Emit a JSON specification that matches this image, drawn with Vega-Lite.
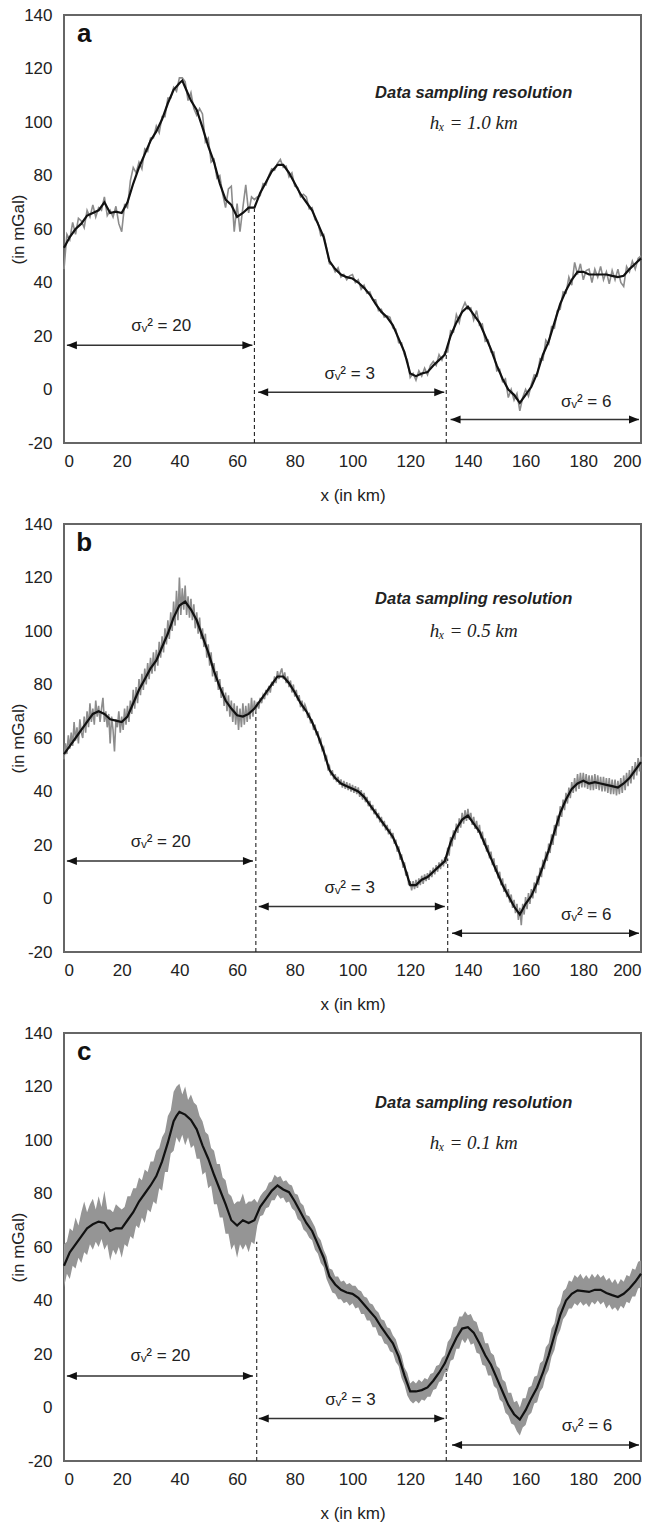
{
"$schema":"https://vega.github.io/schema/vega-lite/v6.json",
"background":"white",
"padding":{"left":9,"top":6,"right":5,"bottom":5},
"config":{"view":{"stroke":"#666","strokeWidth":2},
"axis":{"domain":false,"ticks":false,"grid":false,"labelExpr":"''+datum.value","labelFont":"Liberation Sans","labelFontSize":17,"labelColor":"#222","titleFont":"Liberation Sans","titleFontSize":17,"titleFontWeight":"normal","titleColor":"#222"}},
"datasets":{"d":[
{"p":"a","k":"g","x":0,"y":45},{"p":"a","k":"g","x":1,"y":58},{"p":"a","k":"g","x":2,"y":56},{"p":"a","k":"g","x":3,"y":62.5},{"p":"a","k":"g","x":4,"y":58},{"p":"a","k":"g","x":5,"y":64},{"p":"a","k":"g","x":6,"y":63},{"p":"a","k":"g","x":7,"y":60.5},{"p":"a","k":"g","x":8,"y":67},{"p":"a","k":"g","x":9,"y":64.5},{"p":"a","k":"g","x":10,"y":69},{"p":"a","k":"g","x":11,"y":64.5},{"p":"a","k":"g","x":12,"y":68},{"p":"a","k":"g","x":13,"y":67},{"p":"a","k":"g","x":14,"y":72},{"p":"a","k":"g","x":15,"y":65},{"p":"a","k":"g","x":16,"y":67},{"p":"a","k":"g","x":17,"y":64.5},{"p":"a","k":"g","x":18,"y":68.5},{"p":"a","k":"g","x":19,"y":62},{"p":"a","k":"g","x":20,"y":59},{"p":"a","k":"g","x":21,"y":69},{"p":"a","k":"g","x":22,"y":68},{"p":"a","k":"g","x":23,"y":78},{"p":"a","k":"g","x":24,"y":83},{"p":"a","k":"g","x":25,"y":81},{"p":"a","k":"g","x":26,"y":85},{"p":"a","k":"g","x":27,"y":82.5},{"p":"a","k":"g","x":28,"y":90},{"p":"a","k":"g","x":29,"y":89},{"p":"a","k":"g","x":30,"y":94},{"p":"a","k":"g","x":31,"y":94},{"p":"a","k":"g","x":32,"y":98.5},{"p":"a","k":"g","x":33,"y":96},{"p":"a","k":"g","x":34,"y":102},{"p":"a","k":"g","x":35,"y":102},{"p":"a","k":"g","x":36,"y":109},{"p":"a","k":"g","x":37,"y":109},{"p":"a","k":"g","x":38,"y":113},{"p":"a","k":"g","x":39,"y":111.5},{"p":"a","k":"g","x":40,"y":116.5},{"p":"a","k":"g","x":41,"y":116.5},{"p":"a","k":"g","x":42,"y":115},{"p":"a","k":"g","x":43,"y":108},{"p":"a","k":"g","x":44,"y":111},{"p":"a","k":"g","x":45,"y":105},{"p":"a","k":"g","x":46,"y":102.5},{"p":"a","k":"g","x":47,"y":105},{"p":"a","k":"g","x":48,"y":103},{"p":"a","k":"g","x":49,"y":92.5},{"p":"a","k":"g","x":50,"y":94},{"p":"a","k":"g","x":51,"y":85},{"p":"a","k":"g","x":52,"y":86},{"p":"a","k":"g","x":53,"y":79},{"p":"a","k":"g","x":54,"y":80},{"p":"a","k":"g","x":55,"y":73},{"p":"a","k":"g","x":56,"y":68},{"p":"a","k":"g","x":57,"y":75},{"p":"a","k":"g","x":58,"y":76},{"p":"a","k":"g","x":59,"y":59},{"p":"a","k":"g","x":60,"y":69.5},{"p":"a","k":"g","x":61,"y":59},{"p":"a","k":"g","x":62,"y":68},{"p":"a","k":"g","x":63,"y":76.5},{"p":"a","k":"g","x":64,"y":66},{"p":"a","k":"g","x":65,"y":72},{"p":"a","k":"g","x":66,"y":71},{"p":"a","k":"g","x":67,"y":72},{"p":"a","k":"g","x":68,"y":72.5},{"p":"a","k":"g","x":69,"y":77},{"p":"a","k":"g","x":70,"y":76.5},{"p":"a","k":"g","x":71,"y":80},{"p":"a","k":"g","x":72,"y":82.5},{"p":"a","k":"g","x":73,"y":82},{"p":"a","k":"g","x":74,"y":84.5},{"p":"a","k":"g","x":75,"y":86},{"p":"a","k":"g","x":76,"y":83},{"p":"a","k":"g","x":77,"y":83.5},{"p":"a","k":"g","x":78,"y":79.5},{"p":"a","k":"g","x":79,"y":81},{"p":"a","k":"g","x":80,"y":76},{"p":"a","k":"g","x":81,"y":75.5},{"p":"a","k":"g","x":82,"y":72},{"p":"a","k":"g","x":83,"y":73},{"p":"a","k":"g","x":84,"y":72},{"p":"a","k":"g","x":85,"y":67.5},{"p":"a","k":"g","x":86,"y":68},{"p":"a","k":"g","x":87,"y":63.5},{"p":"a","k":"g","x":88,"y":62.5},{"p":"a","k":"g","x":89,"y":57.5},{"p":"a","k":"g","x":90,"y":58},{"p":"a","k":"g","x":91,"y":53},{"p":"a","k":"g","x":92,"y":47},{"p":"a","k":"g","x":93,"y":46.5},{"p":"a","k":"g","x":94,"y":44},{"p":"a","k":"g","x":95,"y":45.5},{"p":"a","k":"g","x":96,"y":42},{"p":"a","k":"g","x":97,"y":43},{"p":"a","k":"g","x":98,"y":41},{"p":"a","k":"g","x":99,"y":42.5},{"p":"a","k":"g","x":100,"y":43},{"p":"a","k":"g","x":101,"y":40},{"p":"a","k":"g","x":102,"y":41},{"p":"a","k":"g","x":103,"y":37.5},{"p":"a","k":"g","x":104,"y":39},{"p":"a","k":"g","x":105,"y":36},{"p":"a","k":"g","x":106,"y":36.5},{"p":"a","k":"g","x":107,"y":33.5},{"p":"a","k":"g","x":108,"y":33.5},{"p":"a","k":"g","x":109,"y":29.5},{"p":"a","k":"g","x":110,"y":30},{"p":"a","k":"g","x":111,"y":27},{"p":"a","k":"g","x":112,"y":27.5},{"p":"a","k":"g","x":113,"y":27},{"p":"a","k":"g","x":114,"y":23},{"p":"a","k":"g","x":115,"y":22.5},{"p":"a","k":"g","x":116,"y":17.5},{"p":"a","k":"g","x":117,"y":17.5},{"p":"a","k":"g","x":118,"y":13},{"p":"a","k":"g","x":119,"y":11},{"p":"a","k":"g","x":120,"y":4.5},{"p":"a","k":"g","x":121,"y":6},{"p":"a","k":"g","x":122,"y":3.5},{"p":"a","k":"g","x":123,"y":7},{"p":"a","k":"g","x":124,"y":5},{"p":"a","k":"g","x":125,"y":8},{"p":"a","k":"g","x":126,"y":5.5},{"p":"a","k":"g","x":127,"y":9},{"p":"a","k":"g","x":128,"y":10.5},{"p":"a","k":"g","x":129,"y":9},{"p":"a","k":"g","x":130,"y":13},{"p":"a","k":"g","x":131,"y":11},{"p":"a","k":"g","x":132,"y":14},{"p":"a","k":"g","x":133,"y":14},{"p":"a","k":"g","x":134,"y":22},{"p":"a","k":"g","x":135,"y":21.5},{"p":"a","k":"g","x":136,"y":28},{"p":"a","k":"g","x":137,"y":25},{"p":"a","k":"g","x":138,"y":30},{"p":"a","k":"g","x":139,"y":32.5},{"p":"a","k":"g","x":140,"y":30},{"p":"a","k":"g","x":141,"y":30.5},{"p":"a","k":"g","x":142,"y":26},{"p":"a","k":"g","x":143,"y":29.5},{"p":"a","k":"g","x":144,"y":24},{"p":"a","k":"g","x":145,"y":24.5},{"p":"a","k":"g","x":146,"y":18},{"p":"a","k":"g","x":147,"y":18.5},{"p":"a","k":"g","x":148,"y":14},{"p":"a","k":"g","x":149,"y":14},{"p":"a","k":"g","x":150,"y":7},{"p":"a","k":"g","x":151,"y":7.5},{"p":"a","k":"g","x":152,"y":3},{"p":"a","k":"g","x":153,"y":4},{"p":"a","k":"g","x":154,"y":-3},{"p":"a","k":"g","x":155,"y":0},{"p":"a","k":"g","x":156,"y":-4},{"p":"a","k":"g","x":157,"y":-1.5},{"p":"a","k":"g","x":158,"y":-8},{"p":"a","k":"g","x":159,"y":-3},{"p":"a","k":"g","x":160,"y":0},{"p":"a","k":"g","x":161,"y":-2.5},{"p":"a","k":"g","x":162,"y":2},{"p":"a","k":"g","x":163,"y":5.5},{"p":"a","k":"g","x":164,"y":5},{"p":"a","k":"g","x":165,"y":11.5},{"p":"a","k":"g","x":166,"y":11},{"p":"a","k":"g","x":167,"y":18.5},{"p":"a","k":"g","x":168,"y":17},{"p":"a","k":"g","x":169,"y":23.5},{"p":"a","k":"g","x":170,"y":23},{"p":"a","k":"g","x":171,"y":29.5},{"p":"a","k":"g","x":172,"y":30},{"p":"a","k":"g","x":173,"y":36.5},{"p":"a","k":"g","x":174,"y":36},{"p":"a","k":"g","x":175,"y":42},{"p":"a","k":"g","x":176,"y":39},{"p":"a","k":"g","x":177,"y":47.5},{"p":"a","k":"g","x":178,"y":43},{"p":"a","k":"g","x":179,"y":47},{"p":"a","k":"g","x":180,"y":41},{"p":"a","k":"g","x":181,"y":44.5},{"p":"a","k":"g","x":182,"y":45},{"p":"a","k":"g","x":183,"y":40},{"p":"a","k":"g","x":184,"y":45},{"p":"a","k":"g","x":185,"y":42},{"p":"a","k":"g","x":186,"y":46},{"p":"a","k":"g","x":187,"y":41},{"p":"a","k":"g","x":188,"y":44},{"p":"a","k":"g","x":189,"y":39.5},{"p":"a","k":"g","x":190,"y":44.5},{"p":"a","k":"g","x":191,"y":41},{"p":"a","k":"g","x":192,"y":45},{"p":"a","k":"g","x":193,"y":40},{"p":"a","k":"g","x":194,"y":38.5},{"p":"a","k":"g","x":195,"y":46},{"p":"a","k":"g","x":196,"y":44},{"p":"a","k":"g","x":197,"y":48},{"p":"a","k":"g","x":198,"y":45},{"p":"a","k":"g","x":199,"y":49},{"p":"a","k":"g","x":200,"y":50},

{"p":"b","k":"g","x":0,"y":52},{"p":"b","k":"g","x":0.5,"y":58},{"p":"b","k":"g","x":1,"y":54},{"p":"b","k":"g","x":1.5,"y":61},{"p":"b","k":"g","x":2,"y":56},{"p":"b","k":"g","x":2.5,"y":62},{"p":"b","k":"g","x":3,"y":57},{"p":"b","k":"g","x":3.5,"y":66},{"p":"b","k":"g","x":4,"y":59},{"p":"b","k":"g","x":4.5,"y":64},{"p":"b","k":"g","x":5,"y":58},{"p":"b","k":"g","x":5.5,"y":67},{"p":"b","k":"g","x":6,"y":62},{"p":"b","k":"g","x":6.5,"y":60},{"p":"b","k":"g","x":7,"y":68},{"p":"b","k":"g","x":7.5,"y":62},{"p":"b","k":"g","x":8,"y":70},{"p":"b","k":"g","x":8.5,"y":64},{"p":"b","k":"g","x":9,"y":73},{"p":"b","k":"g","x":9.5,"y":66},{"p":"b","k":"g","x":10,"y":71},{"p":"b","k":"g","x":10.5,"y":65},{"p":"b","k":"g","x":11,"y":74},{"p":"b","k":"g","x":11.5,"y":68},{"p":"b","k":"g","x":12,"y":72},{"p":"b","k":"g","x":12.5,"y":66},{"p":"b","k":"g","x":13,"y":71},{"p":"b","k":"g","x":13.5,"y":75},{"p":"b","k":"g","x":14,"y":66},{"p":"b","k":"g","x":14.5,"y":70},{"p":"b","k":"g","x":15,"y":64},{"p":"b","k":"g","x":15.5,"y":69},{"p":"b","k":"g","x":16,"y":58},{"p":"b","k":"g","x":16.5,"y":68},{"p":"b","k":"g","x":17,"y":63},{"p":"b","k":"g","x":17.5,"y":55},{"p":"b","k":"g","x":18,"y":67},{"p":"b","k":"g","x":18.5,"y":64},{"p":"b","k":"g","x":19,"y":70},{"p":"b","k":"g","x":19.5,"y":62},{"p":"b","k":"g","x":20,"y":68},{"p":"b","k":"g","x":20.5,"y":63},{"p":"b","k":"g","x":21,"y":71},{"p":"b","k":"g","x":21.5,"y":65},{"p":"b","k":"g","x":22,"y":72},{"p":"b","k":"g","x":22.5,"y":66},{"p":"b","k":"g","x":23,"y":74},{"p":"b","k":"g","x":23.5,"y":69},{"p":"b","k":"g","x":24,"y":78},{"p":"b","k":"g","x":24.5,"y":71},{"p":"b","k":"g","x":25,"y":79},{"p":"b","k":"g","x":25.5,"y":73},{"p":"b","k":"g","x":26,"y":82},{"p":"b","k":"g","x":26.5,"y":76},{"p":"b","k":"g","x":27,"y":84},{"p":"b","k":"g","x":27.5,"y":78},{"p":"b","k":"g","x":28,"y":86},{"p":"b","k":"g","x":28.5,"y":80},{"p":"b","k":"g","x":29,"y":88},{"p":"b","k":"g","x":29.5,"y":82},{"p":"b","k":"g","x":30,"y":90},{"p":"b","k":"g","x":30.5,"y":84},{"p":"b","k":"g","x":31,"y":92},{"p":"b","k":"g","x":31.5,"y":85},{"p":"b","k":"g","x":32,"y":93},{"p":"b","k":"g","x":32.5,"y":87},{"p":"b","k":"g","x":33,"y":96},{"p":"b","k":"g","x":33.5,"y":90},{"p":"b","k":"g","x":34,"y":98},{"p":"b","k":"g","x":34.5,"y":92},{"p":"b","k":"g","x":35,"y":101},{"p":"b","k":"g","x":35.5,"y":95},{"p":"b","k":"g","x":36,"y":104},{"p":"b","k":"g","x":36.5,"y":97},{"p":"b","k":"g","x":37,"y":107},{"p":"b","k":"g","x":37.5,"y":100},{"p":"b","k":"g","x":38,"y":111},{"p":"b","k":"g","x":38.5,"y":102},{"p":"b","k":"g","x":39,"y":115},{"p":"b","k":"g","x":39.5,"y":104},{"p":"b","k":"g","x":40,"y":120},{"p":"b","k":"g","x":40.5,"y":106},{"p":"b","k":"g","x":41,"y":116},{"p":"b","k":"g","x":41.5,"y":108},{"p":"b","k":"g","x":42,"y":117},{"p":"b","k":"g","x":42.5,"y":106},{"p":"b","k":"g","x":43,"y":113},{"p":"b","k":"g","x":43.5,"y":105},{"p":"b","k":"g","x":44,"y":112},{"p":"b","k":"g","x":44.5,"y":104},{"p":"b","k":"g","x":45,"y":110},{"p":"b","k":"g","x":45.5,"y":101},{"p":"b","k":"g","x":46,"y":107},{"p":"b","k":"g","x":46.5,"y":99},{"p":"b","k":"g","x":47,"y":105},{"p":"b","k":"g","x":47.5,"y":97},{"p":"b","k":"g","x":48,"y":101},{"p":"b","k":"g","x":48.5,"y":94},{"p":"b","k":"g","x":49,"y":99},{"p":"b","k":"g","x":49.5,"y":90},{"p":"b","k":"g","x":50,"y":95},{"p":"b","k":"g","x":50.5,"y":87},{"p":"b","k":"g","x":51,"y":92},{"p":"b","k":"g","x":51.5,"y":83},{"p":"b","k":"g","x":52,"y":88},{"p":"b","k":"g","x":52.5,"y":81},{"p":"b","k":"g","x":53,"y":85},{"p":"b","k":"g","x":53.5,"y":78},{"p":"b","k":"g","x":54,"y":82},{"p":"b","k":"g","x":54.5,"y":75},{"p":"b","k":"g","x":55,"y":79},{"p":"b","k":"g","x":55.5,"y":72},{"p":"b","k":"g","x":56,"y":77},{"p":"b","k":"g","x":56.5,"y":70},{"p":"b","k":"g","x":57,"y":76},{"p":"b","k":"g","x":57.5,"y":68},{"p":"b","k":"g","x":58,"y":74},{"p":"b","k":"g","x":58.5,"y":66},{"p":"b","k":"g","x":59,"y":73},{"p":"b","k":"g","x":59.5,"y":65},{"p":"b","k":"g","x":60,"y":72},{"p":"b","k":"g","x":60.5,"y":63},{"p":"b","k":"g","x":61,"y":71},{"p":"b","k":"g","x":61.5,"y":64},{"p":"b","k":"g","x":62,"y":73},{"p":"b","k":"g","x":62.5,"y":65},{"p":"b","k":"g","x":63,"y":72},{"p":"b","k":"g","x":63.5,"y":66},{"p":"b","k":"g","x":64,"y":73},{"p":"b","k":"g","x":64.5,"y":67},{"p":"b","k":"g","x":65,"y":75},{"p":"b","k":"g","x":65.5,"y":68},{"p":"b","k":"g","x":66,"y":74},{"p":"b","k":"g","x":66.5,"y":70},
{"p":"b","k":"g","x":67,"y":73.5},{"p":"b","k":"g","x":67.5,"y":71},{"p":"b","k":"g","x":68,"y":75},{"p":"b","k":"g","x":68.5,"y":73},{"p":"b","k":"g","x":69,"y":76},{"p":"b","k":"g","x":69.5,"y":74.5},{"p":"b","k":"g","x":70,"y":78},{"p":"b","k":"g","x":70.5,"y":76},{"p":"b","k":"g","x":71,"y":79.5},{"p":"b","k":"g","x":71.5,"y":77},{"p":"b","k":"g","x":72,"y":81},{"p":"b","k":"g","x":72.5,"y":79.5},{"p":"b","k":"g","x":73,"y":83},{"p":"b","k":"g","x":73.5,"y":80.5},{"p":"b","k":"g","x":74,"y":85},{"p":"b","k":"g","x":74.5,"y":82},{"p":"b","k":"g","x":75,"y":84.5},{"p":"b","k":"g","x":75.5,"y":86},{"p":"b","k":"g","x":76,"y":82},{"p":"b","k":"g","x":76.5,"y":84.5},{"p":"b","k":"g","x":77,"y":80.5},{"p":"b","k":"g","x":77.5,"y":83},{"p":"b","k":"g","x":78,"y":79},{"p":"b","k":"g","x":78.5,"y":81.5},{"p":"b","k":"g","x":79,"y":77},{"p":"b","k":"g","x":79.5,"y":80},{"p":"b","k":"g","x":80,"y":75.5},{"p":"b","k":"g","x":80.5,"y":78},{"p":"b","k":"g","x":81,"y":74},{"p":"b","k":"g","x":81.5,"y":76},{"p":"b","k":"g","x":82,"y":71.5},{"p":"b","k":"g","x":82.5,"y":74},{"p":"b","k":"g","x":83,"y":70},{"p":"b","k":"g","x":83.5,"y":72.5},{"p":"b","k":"g","x":84,"y":71},{"p":"b","k":"g","x":84.5,"y":67.5},{"p":"b","k":"g","x":85,"y":69.5},{"p":"b","k":"g","x":85.5,"y":65.5},{"p":"b","k":"g","x":86,"y":67},{"p":"b","k":"g","x":86.5,"y":63},{"p":"b","k":"g","x":87,"y":65},{"p":"b","k":"g","x":87.5,"y":61},{"p":"b","k":"g","x":88,"y":62.5},{"p":"b","k":"g","x":88.5,"y":58.5},{"p":"b","k":"g","x":89,"y":59.5},{"p":"b","k":"g","x":89.5,"y":55.5},{"p":"b","k":"g","x":90,"y":56.5},{"p":"b","k":"g","x":90.5,"y":52},{"p":"b","k":"g","x":91,"y":53},{"p":"b","k":"g","x":91.5,"y":48.5},{"p":"b","k":"g","x":92,"y":49.5},{"p":"b","k":"g","x":92.5,"y":46},{"p":"b","k":"g","x":93,"y":48},{"p":"b","k":"g","x":93.5,"y":44.5},{"p":"b","k":"g","x":94,"y":46.5},{"p":"b","k":"g","x":94.5,"y":43.5},{"p":"b","k":"g","x":95,"y":45.5},{"p":"b","k":"g","x":95.5,"y":42.5},{"p":"b","k":"g","x":96,"y":44.5},{"p":"b","k":"g","x":96.5,"y":41.5},{"p":"b","k":"g","x":97,"y":44},{"p":"b","k":"g","x":97.5,"y":41},{"p":"b","k":"g","x":98,"y":43.5},{"p":"b","k":"g","x":98.5,"y":40.5},{"p":"b","k":"g","x":99,"y":43},{"p":"b","k":"g","x":99.5,"y":40},{"p":"b","k":"g","x":100,"y":42.5},{"p":"b","k":"g","x":100.5,"y":39.5},{"p":"b","k":"g","x":101,"y":42},{"p":"b","k":"g","x":101.5,"y":39},{"p":"b","k":"g","x":102,"y":41.5},{"p":"b","k":"g","x":102.5,"y":38},{"p":"b","k":"g","x":103,"y":40.5},{"p":"b","k":"g","x":103.5,"y":37},{"p":"b","k":"g","x":104,"y":39.5},{"p":"b","k":"g","x":104.5,"y":36},{"p":"b","k":"g","x":105,"y":38},{"p":"b","k":"g","x":105.5,"y":34.5},{"p":"b","k":"g","x":106,"y":36.5},{"p":"b","k":"g","x":106.5,"y":33},{"p":"b","k":"g","x":107,"y":35},{"p":"b","k":"g","x":107.5,"y":31.5},{"p":"b","k":"g","x":108,"y":33.5},{"p":"b","k":"g","x":108.5,"y":30},{"p":"b","k":"g","x":109,"y":32},{"p":"b","k":"g","x":109.5,"y":28.5},{"p":"b","k":"g","x":110,"y":30.5},{"p":"b","k":"g","x":110.5,"y":27},{"p":"b","k":"g","x":111,"y":29},{"p":"b","k":"g","x":111.5,"y":25.5},{"p":"b","k":"g","x":112,"y":27.5},{"p":"b","k":"g","x":112.5,"y":24},{"p":"b","k":"g","x":113,"y":26},{"p":"b","k":"g","x":113.5,"y":22.5},{"p":"b","k":"g","x":114,"y":24.5},{"p":"b","k":"g","x":114.5,"y":20.5},{"p":"b","k":"g","x":115,"y":22},{"p":"b","k":"g","x":115.5,"y":17.5},{"p":"b","k":"g","x":116,"y":19.5},{"p":"b","k":"g","x":116.5,"y":14.5},{"p":"b","k":"g","x":117,"y":16.5},{"p":"b","k":"g","x":117.5,"y":11.5},{"p":"b","k":"g","x":118,"y":13.5},{"p":"b","k":"g","x":118.5,"y":8.5},{"p":"b","k":"g","x":119,"y":10},{"p":"b","k":"g","x":119.5,"y":5},{"p":"b","k":"g","x":120,"y":6.5},{"p":"b","k":"g","x":120.5,"y":3},{"p":"b","k":"g","x":121,"y":6.5},{"p":"b","k":"g","x":121.5,"y":3.5},{"p":"b","k":"g","x":122,"y":7},{"p":"b","k":"g","x":122.5,"y":4},{"p":"b","k":"g","x":123,"y":7.5},{"p":"b","k":"g","x":123.5,"y":5},{"p":"b","k":"g","x":124,"y":8.5},{"p":"b","k":"g","x":124.5,"y":5.5},{"p":"b","k":"g","x":125,"y":9},{"p":"b","k":"g","x":125.5,"y":6.5},{"p":"b","k":"g","x":126,"y":9.5},{"p":"b","k":"g","x":126.5,"y":7},{"p":"b","k":"g","x":127,"y":10.5},{"p":"b","k":"g","x":127.5,"y":8},{"p":"b","k":"g","x":128,"y":11.5},{"p":"b","k":"g","x":128.5,"y":9},{"p":"b","k":"g","x":129,"y":12.5},{"p":"b","k":"g","x":129.5,"y":10},{"p":"b","k":"g","x":130,"y":13.5},{"p":"b","k":"g","x":130.5,"y":11},{"p":"b","k":"g","x":131,"y":14.5},{"p":"b","k":"g","x":131.5,"y":12},{"p":"b","k":"g","x":132,"y":15.5},{"p":"b","k":"g","x":132.5,"y":13},
{"p":"b","k":"g","x":133,"y":19},{"p":"b","k":"g","x":133.5,"y":16},{"p":"b","k":"g","x":134,"y":23},{"p":"b","k":"g","x":134.5,"y":19.5},{"p":"b","k":"g","x":135,"y":25.5},{"p":"b","k":"g","x":135.5,"y":22},{"p":"b","k":"g","x":136,"y":28},{"p":"b","k":"g","x":136.5,"y":24.5},{"p":"b","k":"g","x":137,"y":30},{"p":"b","k":"g","x":137.5,"y":26.5},{"p":"b","k":"g","x":138,"y":32},{"p":"b","k":"g","x":138.5,"y":28},{"p":"b","k":"g","x":139,"y":33},{"p":"b","k":"g","x":139.5,"y":29},{"p":"b","k":"g","x":140,"y":33.5},{"p":"b","k":"g","x":140.5,"y":29.5},{"p":"b","k":"g","x":141,"y":32},{"p":"b","k":"g","x":141.5,"y":27.5},{"p":"b","k":"g","x":142,"y":30.5},{"p":"b","k":"g","x":142.5,"y":26},{"p":"b","k":"g","x":143,"y":29},{"p":"b","k":"g","x":143.5,"y":24.5},{"p":"b","k":"g","x":144,"y":27.5},{"p":"b","k":"g","x":144.5,"y":22.5},{"p":"b","k":"g","x":145,"y":25},{"p":"b","k":"g","x":145.5,"y":20},{"p":"b","k":"g","x":146,"y":22.5},{"p":"b","k":"g","x":146.5,"y":17.5},{"p":"b","k":"g","x":147,"y":20},{"p":"b","k":"g","x":147.5,"y":15},{"p":"b","k":"g","x":148,"y":17.5},{"p":"b","k":"g","x":148.5,"y":12.5},{"p":"b","k":"g","x":149,"y":15},{"p":"b","k":"g","x":149.5,"y":10},{"p":"b","k":"g","x":150,"y":12.5},{"p":"b","k":"g","x":150.5,"y":7.5},{"p":"b","k":"g","x":151,"y":10},{"p":"b","k":"g","x":151.5,"y":5},{"p":"b","k":"g","x":152,"y":7.5},{"p":"b","k":"g","x":152.5,"y":2.5},{"p":"b","k":"g","x":153,"y":5.5},{"p":"b","k":"g","x":153.5,"y":0.5},{"p":"b","k":"g","x":154,"y":3.5},{"p":"b","k":"g","x":154.5,"y":-1.5},{"p":"b","k":"g","x":155,"y":1.5},{"p":"b","k":"g","x":155.5,"y":-3.5},{"p":"b","k":"g","x":156,"y":-0.5},{"p":"b","k":"g","x":156.5,"y":-5.5},{"p":"b","k":"g","x":157,"y":-2},{"p":"b","k":"g","x":157.5,"y":-8},{"p":"b","k":"g","x":158,"y":-3.5},{"p":"b","k":"g","x":158.5,"y":-10},{"p":"b","k":"g","x":159,"y":-2},{"p":"b","k":"g","x":159.5,"y":-6},{"p":"b","k":"g","x":160,"y":0.5},{"p":"b","k":"g","x":160.5,"y":-4},{"p":"b","k":"g","x":161,"y":2},{"p":"b","k":"g","x":161.5,"y":-2},{"p":"b","k":"g","x":162,"y":3.5},{"p":"b","k":"g","x":162.5,"y":0},{"p":"b","k":"g","x":163,"y":6},{"p":"b","k":"g","x":163.5,"y":2},{"p":"b","k":"g","x":164,"y":8.5},{"p":"b","k":"g","x":164.5,"y":5},{"p":"b","k":"g","x":165,"y":11.5},{"p":"b","k":"g","x":165.5,"y":8},{"p":"b","k":"g","x":166,"y":14.5},{"p":"b","k":"g","x":166.5,"y":11},{"p":"b","k":"g","x":167,"y":17.5},{"p":"b","k":"g","x":167.5,"y":14},{"p":"b","k":"g","x":168,"y":20.5},{"p":"b","k":"g","x":168.5,"y":17},{"p":"b","k":"g","x":169,"y":24},{"p":"b","k":"g","x":169.5,"y":20},{"p":"b","k":"g","x":170,"y":27.5},{"p":"b","k":"g","x":170.5,"y":23.5},{"p":"b","k":"g","x":171,"y":31},{"p":"b","k":"g","x":171.5,"y":27},{"p":"b","k":"g","x":172,"y":34.5},{"p":"b","k":"g","x":172.5,"y":30.5},{"p":"b","k":"g","x":173,"y":37},{"p":"b","k":"g","x":173.5,"y":33},{"p":"b","k":"g","x":174,"y":39.5},{"p":"b","k":"g","x":174.5,"y":35.5},{"p":"b","k":"g","x":175,"y":41.5},{"p":"b","k":"g","x":175.5,"y":37.5},{"p":"b","k":"g","x":176,"y":43.5},{"p":"b","k":"g","x":176.5,"y":39.5},{"p":"b","k":"g","x":177,"y":45},{"p":"b","k":"g","x":177.5,"y":40},{"p":"b","k":"g","x":178,"y":46.5},{"p":"b","k":"g","x":178.5,"y":41},{"p":"b","k":"g","x":179,"y":47},{"p":"b","k":"g","x":179.5,"y":41.5},{"p":"b","k":"g","x":180,"y":47},{"p":"b","k":"g","x":180.5,"y":41.5},{"p":"b","k":"g","x":181,"y":46.5},{"p":"b","k":"g","x":181.5,"y":41},{"p":"b","k":"g","x":182,"y":46},{"p":"b","k":"g","x":182.5,"y":40.5},{"p":"b","k":"g","x":183,"y":46},{"p":"b","k":"g","x":183.5,"y":40.5},{"p":"b","k":"g","x":184,"y":46.5},{"p":"b","k":"g","x":184.5,"y":41},{"p":"b","k":"g","x":185,"y":46},{"p":"b","k":"g","x":185.5,"y":40.5},{"p":"b","k":"g","x":186,"y":45.5},{"p":"b","k":"g","x":186.5,"y":40},{"p":"b","k":"g","x":187,"y":45.5},{"p":"b","k":"g","x":187.5,"y":40},{"p":"b","k":"g","x":188,"y":45},{"p":"b","k":"g","x":188.5,"y":39.5},{"p":"b","k":"g","x":189,"y":45},{"p":"b","k":"g","x":189.5,"y":39},{"p":"b","k":"g","x":190,"y":44.5},{"p":"b","k":"g","x":190.5,"y":39},{"p":"b","k":"g","x":191,"y":44.5},{"p":"b","k":"g","x":191.5,"y":38.5},{"p":"b","k":"g","x":192,"y":44},{"p":"b","k":"g","x":192.5,"y":39},{"p":"b","k":"g","x":193,"y":45},{"p":"b","k":"g","x":193.5,"y":39.5},{"p":"b","k":"g","x":194,"y":46},{"p":"b","k":"g","x":194.5,"y":40.5},{"p":"b","k":"g","x":195,"y":47},{"p":"b","k":"g","x":195.5,"y":42},{"p":"b","k":"g","x":196,"y":48},{"p":"b","k":"g","x":196.5,"y":43},{"p":"b","k":"g","x":197,"y":49.5},{"p":"b","k":"g","x":197.5,"y":44.5},{"p":"b","k":"g","x":198,"y":51},{"p":"b","k":"g","x":198.5,"y":46},{"p":"b","k":"g","x":199,"y":52.5},{"p":"b","k":"g","x":199.5,"y":47.5},{"p":"b","k":"g","x":200,"y":53},

{"p":"c","k":"band","x":0,"y":45,"y2":61},{"p":"c","k":"band","x":1,"y":50,"y2":62},{"p":"c","k":"band","x":2,"y":48,"y2":67},{"p":"c","k":"band","x":3,"y":53,"y2":66},{"p":"c","k":"band","x":4,"y":52,"y2":71},{"p":"c","k":"band","x":5,"y":56,"y2":68},{"p":"c","k":"band","x":6,"y":54,"y2":73},{"p":"c","k":"band","x":7,"y":58,"y2":77},{"p":"c","k":"band","x":8,"y":57,"y2":73},{"p":"c","k":"band","x":9,"y":61,"y2":76},{"p":"c","k":"band","x":10,"y":59,"y2":78},{"p":"c","k":"band","x":11,"y":62,"y2":74},{"p":"c","k":"band","x":12,"y":60,"y2":79},{"p":"c","k":"band","x":13,"y":63,"y2":75},{"p":"c","k":"band","x":14,"y":59,"y2":81},{"p":"c","k":"band","x":15,"y":61,"y2":74},{"p":"c","k":"band","x":16,"y":55,"y2":74},{"p":"c","k":"band","x":17,"y":59,"y2":73},{"p":"c","k":"band","x":18,"y":57,"y2":76},{"p":"c","k":"band","x":19,"y":60,"y2":75},{"p":"c","k":"band","x":20,"y":56,"y2":74},{"p":"c","k":"band","x":21,"y":61,"y2":75},{"p":"c","k":"band","x":22,"y":60,"y2":79},{"p":"c","k":"band","x":23,"y":64,"y2":79},{"p":"c","k":"band","x":24,"y":63,"y2":82},{"p":"c","k":"band","x":25,"y":68,"y2":82},{"p":"c","k":"band","x":26,"y":67,"y2":86},{"p":"c","k":"band","x":27,"y":71,"y2":85},{"p":"c","k":"band","x":28,"y":69,"y2":89},{"p":"c","k":"band","x":29,"y":74,"y2":88},{"p":"c","k":"band","x":30,"y":73,"y2":92},{"p":"c","k":"band","x":31,"y":77,"y2":92},{"p":"c","k":"band","x":32,"y":76,"y2":96},{"p":"c","k":"band","x":33,"y":82,"y2":97},{"p":"c","k":"band","x":34,"y":81,"y2":101},{"p":"c","k":"band","x":35,"y":88,"y2":103},{"p":"c","k":"band","x":36,"y":88,"y2":109},{"p":"c","k":"band","x":37,"y":95,"y2":111},{"p":"c","k":"band","x":38,"y":96,"y2":118},{"p":"c","k":"band","x":39,"y":101,"y2":120},{"p":"c","k":"band","x":40,"y":99,"y2":121},{"p":"c","k":"band","x":41,"y":102,"y2":117},{"p":"c","k":"band","x":42,"y":98,"y2":120},{"p":"c","k":"band","x":43,"y":101,"y2":115},{"p":"c","k":"band","x":44,"y":97,"y2":117},{"p":"c","k":"band","x":45,"y":98,"y2":114},{"p":"c","k":"band","x":46,"y":93,"y2":113},{"p":"c","k":"band","x":47,"y":93,"y2":109},{"p":"c","k":"band","x":48,"y":87,"y2":107},{"p":"c","k":"band","x":49,"y":88,"y2":103},{"p":"c","k":"band","x":50,"y":82,"y2":102},{"p":"c","k":"band","x":51,"y":83,"y2":97},{"p":"c","k":"band","x":52,"y":76,"y2":96},{"p":"c","k":"band","x":53,"y":76,"y2":91},{"p":"c","k":"band","x":54,"y":71,"y2":91},{"p":"c","k":"band","x":55,"y":71,"y2":86},{"p":"c","k":"band","x":56,"y":65,"y2":85},{"p":"c","k":"band","x":57,"y":65,"y2":80},{"p":"c","k":"band","x":58,"y":59,"y2":79},{"p":"c","k":"band","x":59,"y":61,"y2":76},{"p":"c","k":"band","x":60,"y":56,"y2":77},{"p":"c","k":"band","x":61,"y":61,"y2":77},{"p":"c","k":"band","x":62,"y":59,"y2":80},{"p":"c","k":"band","x":63,"y":61,"y2":76},{"p":"c","k":"band","x":64,"y":58,"y2":77},{"p":"c","k":"band","x":65,"y":62,"y2":77},{"p":"c","k":"band","x":66,"y":61,"y2":78},
{"p":"c","k":"band","x":67,"y":68,"y2":76.5},{"p":"c","k":"band","x":68,"y":71.5,"y2":79},{"p":"c","k":"band","x":69,"y":72,"y2":80.5},{"p":"c","k":"band","x":70,"y":74.5,"y2":81.5},{"p":"c","k":"band","x":71,"y":75,"y2":84},{"p":"c","k":"band","x":72,"y":77.5,"y2":84.5},{"p":"c","k":"band","x":73,"y":77.5,"y2":87},{"p":"c","k":"band","x":74,"y":79.5,"y2":86},{"p":"c","k":"band","x":75,"y":78,"y2":86.5},{"p":"c","k":"band","x":76,"y":78.5,"y2":84.5},{"p":"c","k":"band","x":77,"y":76.5,"y2":85},{"p":"c","k":"band","x":78,"y":77,"y2":83.5},{"p":"c","k":"band","x":79,"y":74.5,"y2":83},{"p":"c","k":"band","x":80,"y":73.5,"y2":80},{"p":"c","k":"band","x":81,"y":70.5,"y2":79.5},{"p":"c","k":"band","x":82,"y":69.5,"y2":76.5},{"p":"c","k":"band","x":83,"y":66.5,"y2":75.5},{"p":"c","k":"band","x":84,"y":65.5,"y2":72},{"p":"c","k":"band","x":85,"y":63.5,"y2":71.5},{"p":"c","k":"band","x":86,"y":62.5,"y2":69.5},{"p":"c","k":"band","x":87,"y":59,"y2":67.5},{"p":"c","k":"band","x":88,"y":57.5,"y2":64},{"p":"c","k":"band","x":89,"y":54,"y2":62.5},{"p":"c","k":"band","x":90,"y":52.5,"y2":59},{"p":"c","k":"band","x":91,"y":48,"y2":56.5},{"p":"c","k":"band","x":92,"y":45.5,"y2":52},{"p":"c","k":"band","x":93,"y":43,"y2":51.5},{"p":"c","k":"band","x":94,"y":42.5,"y2":49},{"p":"c","k":"band","x":95,"y":40.5,"y2":49},{"p":"c","k":"band","x":96,"y":40.5,"y2":47},{"p":"c","k":"band","x":97,"y":39,"y2":47.5},{"p":"c","k":"band","x":98,"y":39.5,"y2":46},{"p":"c","k":"band","x":99,"y":38,"y2":46.5},{"p":"c","k":"band","x":100,"y":39,"y2":45.5},{"p":"c","k":"band","x":101,"y":37,"y2":45.5},{"p":"c","k":"band","x":102,"y":37.5,"y2":44},{"p":"c","k":"band","x":103,"y":35,"y2":43.5},{"p":"c","k":"band","x":104,"y":35,"y2":41.5},{"p":"c","k":"band","x":105,"y":32.5,"y2":41},{"p":"c","k":"band","x":106,"y":32.5,"y2":39},{"p":"c","k":"band","x":107,"y":30,"y2":38.5},{"p":"c","k":"band","x":108,"y":30,"y2":36.5},{"p":"c","k":"band","x":109,"y":27,"y2":35.5},{"p":"c","k":"band","x":110,"y":26.5,"y2":33},{"p":"c","k":"band","x":111,"y":24,"y2":32.5},{"p":"c","k":"band","x":112,"y":23.5,"y2":30},{"p":"c","k":"band","x":113,"y":21,"y2":29.5},{"p":"c","k":"band","x":114,"y":20.5,"y2":27},{"p":"c","k":"band","x":115,"y":17,"y2":25.5},{"p":"c","k":"band","x":116,"y":15.5,"y2":22},{"p":"c","k":"band","x":117,"y":11,"y2":19.5},{"p":"c","k":"band","x":118,"y":8.5,"y2":15},{"p":"c","k":"band","x":119,"y":4.5,"y2":13},{"p":"c","k":"band","x":120,"y":2.5,"y2":9},{"p":"c","k":"band","x":121,"y":1.5,"y2":10},{"p":"c","k":"band","x":122,"y":2.5,"y2":9},{"p":"c","k":"band","x":123,"y":1.5,"y2":10.5},{"p":"c","k":"band","x":124,"y":3,"y2":9.5},{"p":"c","k":"band","x":125,"y":2.5,"y2":11},{"p":"c","k":"band","x":126,"y":4,"y2":10.5},{"p":"c","k":"band","x":127,"y":4,"y2":12.5},{"p":"c","k":"band","x":128,"y":6.5,"y2":13},{"p":"c","k":"band","x":129,"y":7,"y2":15.5},{"p":"c","k":"band","x":130,"y":9.5,"y2":16},{"p":"c","k":"band","x":131,"y":10,"y2":18.5},{"p":"c","k":"band","x":132,"y":13,"y2":19.5},
{"p":"c","k":"band","x":133,"y":13.5,"y2":24.5},{"p":"c","k":"band","x":134,"y":17.5,"y2":26},{"p":"c","k":"band","x":135,"y":18,"y2":30},{"p":"c","k":"band","x":136,"y":22,"y2":30.5},{"p":"c","k":"band","x":137,"y":22,"y2":34},{"p":"c","k":"band","x":138,"y":25.5,"y2":34},{"p":"c","k":"band","x":139,"y":24,"y2":36},{"p":"c","k":"band","x":140,"y":26,"y2":34.5},{"p":"c","k":"band","x":141,"y":23.5,"y2":35},{"p":"c","k":"band","x":142,"y":24,"y2":32.5},{"p":"c","k":"band","x":143,"y":20.5,"y2":32},{"p":"c","k":"band","x":144,"y":20,"y2":28.5},{"p":"c","k":"band","x":145,"y":16,"y2":28},{"p":"c","k":"band","x":146,"y":15.5,"y2":24},{"p":"c","k":"band","x":147,"y":12,"y2":24},{"p":"c","k":"band","x":148,"y":12,"y2":20.5},{"p":"c","k":"band","x":149,"y":8,"y2":19.5},{"p":"c","k":"band","x":150,"y":7,"y2":15.5},{"p":"c","k":"band","x":151,"y":3,"y2":14.5},{"p":"c","k":"band","x":152,"y":2,"y2":10.5},{"p":"c","k":"band","x":153,"y":-2,"y2":9.5},{"p":"c","k":"band","x":154,"y":-3,"y2":5.5},{"p":"c","k":"band","x":155,"y":-6,"y2":5.5},{"p":"c","k":"band","x":156,"y":-6.5,"y2":2},{"p":"c","k":"band","x":157,"y":-9,"y2":2.5},{"p":"c","k":"band","x":158,"y":-10.5,"y2":0},{"p":"c","k":"band","x":159,"y":-7.5,"y2":3.5},{"p":"c","k":"band","x":160,"y":-6.5,"y2":3.5},{"p":"c","k":"band","x":161,"y":-3,"y2":7.5},{"p":"c","k":"band","x":162,"y":-2,"y2":8},{"p":"c","k":"band","x":163,"y":1.5,"y2":11.5},{"p":"c","k":"band","x":164,"y":2,"y2":12},{"p":"c","k":"band","x":165,"y":6,"y2":16.5},{"p":"c","k":"band","x":166,"y":7.5,"y2":17.5},{"p":"c","k":"band","x":167,"y":12,"y2":22.5},{"p":"c","k":"band","x":168,"y":14,"y2":24},{"p":"c","k":"band","x":169,"y":19,"y2":29.5},{"p":"c","k":"band","x":170,"y":21.5,"y2":31.5},{"p":"c","k":"band","x":171,"y":26.5,"y2":37},{"p":"c","k":"band","x":172,"y":29,"y2":39},{"p":"c","k":"band","x":173,"y":33,"y2":43.5},{"p":"c","k":"band","x":174,"y":34.5,"y2":44.5},{"p":"c","k":"band","x":175,"y":37,"y2":47.5},{"p":"c","k":"band","x":176,"y":37,"y2":47},{"p":"c","k":"band","x":177,"y":39,"y2":49.5},{"p":"c","k":"band","x":178,"y":38,"y2":48.5},{"p":"c","k":"band","x":179,"y":39.5,"y2":50},{"p":"c","k":"band","x":180,"y":38,"y2":48},{"p":"c","k":"band","x":181,"y":39,"y2":49.5},{"p":"c","k":"band","x":182,"y":37.5,"y2":48},{"p":"c","k":"band","x":183,"y":39.5,"y2":50},{"p":"c","k":"band","x":184,"y":38.5,"y2":48.5},{"p":"c","k":"band","x":185,"y":40,"y2":50},{"p":"c","k":"band","x":186,"y":38.5,"y2":48.5},{"p":"c","k":"band","x":187,"y":39.5,"y2":49.5},{"p":"c","k":"band","x":188,"y":37,"y2":47.5},{"p":"c","k":"band","x":189,"y":38.5,"y2":48.5},{"p":"c","k":"band","x":190,"y":36.5,"y2":46.5},{"p":"c","k":"band","x":191,"y":37.5,"y2":48},{"p":"c","k":"band","x":192,"y":36,"y2":46},{"p":"c","k":"band","x":193,"y":38,"y2":48},{"p":"c","k":"band","x":194,"y":37,"y2":47},{"p":"c","k":"band","x":195,"y":39.5,"y2":49.5},{"p":"c","k":"band","x":196,"y":39,"y2":49},{"p":"c","k":"band","x":197,"y":41.5,"y2":52},{"p":"c","k":"band","x":198,"y":41.5,"y2":51.5},{"p":"c","k":"band","x":199,"y":44.5,"y2":54.5},{"p":"c","k":"band","x":200,"y":45,"y2":55},

{"p":"a","k":"k","x":0,"y":53},{"p":"a","k":"k","x":2,"y":57},{"p":"a","k":"k","x":4,"y":60},{"p":"a","k":"k","x":6,"y":62},{"p":"a","k":"k","x":8,"y":65},{"p":"a","k":"k","x":10,"y":66},{"p":"a","k":"k","x":12,"y":67},{"p":"a","k":"k","x":14,"y":70},{"p":"a","k":"k","x":16,"y":66},{"p":"a","k":"k","x":18,"y":66.5},{"p":"a","k":"k","x":20,"y":66},{"p":"a","k":"k","x":22,"y":70},{"p":"a","k":"k","x":24,"y":77},{"p":"a","k":"k","x":26,"y":83},{"p":"a","k":"k","x":28,"y":88},{"p":"a","k":"k","x":30,"y":93},{"p":"a","k":"k","x":32,"y":96.5},{"p":"a","k":"k","x":34,"y":101},{"p":"a","k":"k","x":36,"y":107},{"p":"a","k":"k","x":38,"y":112},{"p":"a","k":"k","x":40,"y":114.5},{"p":"a","k":"k","x":41,"y":115.5},{"p":"a","k":"k","x":42,"y":113},{"p":"a","k":"k","x":44,"y":108},{"p":"a","k":"k","x":46,"y":104.5},{"p":"a","k":"k","x":48,"y":98},{"p":"a","k":"k","x":50,"y":91},{"p":"a","k":"k","x":52,"y":85},{"p":"a","k":"k","x":54,"y":77},{"p":"a","k":"k","x":56,"y":71},{"p":"a","k":"k","x":58,"y":69},{"p":"a","k":"k","x":60,"y":64.5},{"p":"a","k":"k","x":62,"y":66},{"p":"a","k":"k","x":64,"y":68},{"p":"a","k":"k","x":66,"y":68},{"p":"a","k":"k","x":68,"y":73.5},{"p":"a","k":"k","x":70,"y":77.5},{"p":"a","k":"k","x":72,"y":81.5},{"p":"a","k":"k","x":74,"y":84},{"p":"a","k":"k","x":76,"y":84},{"p":"a","k":"k","x":78,"y":81},{"p":"a","k":"k","x":80,"y":77},{"p":"a","k":"k","x":82,"y":73},{"p":"a","k":"k","x":84,"y":70},{"p":"a","k":"k","x":86,"y":67},{"p":"a","k":"k","x":88,"y":62},{"p":"a","k":"k","x":90,"y":57},{"p":"a","k":"k","x":92,"y":48},{"p":"a","k":"k","x":94,"y":45},{"p":"a","k":"k","x":96,"y":43},{"p":"a","k":"k","x":98,"y":42},{"p":"a","k":"k","x":100,"y":41.5},{"p":"a","k":"k","x":102,"y":40},{"p":"a","k":"k","x":104,"y":38},{"p":"a","k":"k","x":106,"y":35.5},{"p":"a","k":"k","x":108,"y":32},{"p":"a","k":"k","x":110,"y":29},{"p":"a","k":"k","x":112,"y":27},{"p":"a","k":"k","x":114,"y":24},{"p":"a","k":"k","x":116,"y":19},{"p":"a","k":"k","x":118,"y":14},{"p":"a","k":"k","x":120,"y":6},{"p":"a","k":"k","x":122,"y":5},{"p":"a","k":"k","x":124,"y":6},{"p":"a","k":"k","x":126,"y":6.5},{"p":"a","k":"k","x":128,"y":9},{"p":"a","k":"k","x":130,"y":11},{"p":"a","k":"k","x":132,"y":13},{"p":"a","k":"k","x":134,"y":20},{"p":"a","k":"k","x":136,"y":25},{"p":"a","k":"k","x":138,"y":29},{"p":"a","k":"k","x":140,"y":31},{"p":"a","k":"k","x":142,"y":28},{"p":"a","k":"k","x":144,"y":25},{"p":"a","k":"k","x":146,"y":20},{"p":"a","k":"k","x":148,"y":15},{"p":"a","k":"k","x":150,"y":9},{"p":"a","k":"k","x":152,"y":4},{"p":"a","k":"k","x":154,"y":0},{"p":"a","k":"k","x":156,"y":-2},{"p":"a","k":"k","x":158,"y":-5},{"p":"a","k":"k","x":160,"y":-2},{"p":"a","k":"k","x":162,"y":1},{"p":"a","k":"k","x":164,"y":6},{"p":"a","k":"k","x":166,"y":13},{"p":"a","k":"k","x":168,"y":18},{"p":"a","k":"k","x":170,"y":25},{"p":"a","k":"k","x":172,"y":32},{"p":"a","k":"k","x":174,"y":37},{"p":"a","k":"k","x":176,"y":41},{"p":"a","k":"k","x":178,"y":44},{"p":"a","k":"k","x":180,"y":44},{"p":"a","k":"k","x":182,"y":43},{"p":"a","k":"k","x":184,"y":43},{"p":"a","k":"k","x":186,"y":43},{"p":"a","k":"k","x":188,"y":43},{"p":"a","k":"k","x":190,"y":42.5},{"p":"a","k":"k","x":192,"y":42},{"p":"a","k":"k","x":194,"y":42.5},{"p":"a","k":"k","x":196,"y":45},{"p":"a","k":"k","x":198,"y":47},{"p":"a","k":"k","x":200,"y":49},

{"p":"b","k":"k","x":0,"y":54},{"p":"b","k":"k","x":2,"y":57},{"p":"b","k":"k","x":4,"y":60},{"p":"b","k":"k","x":6,"y":63},{"p":"b","k":"k","x":8,"y":66},{"p":"b","k":"k","x":10,"y":69},{"p":"b","k":"k","x":12,"y":70},{"p":"b","k":"k","x":14,"y":69},{"p":"b","k":"k","x":16,"y":67},{"p":"b","k":"k","x":18,"y":66.5},{"p":"b","k":"k","x":20,"y":66},{"p":"b","k":"k","x":22,"y":68},{"p":"b","k":"k","x":24,"y":73},{"p":"b","k":"k","x":26,"y":78},{"p":"b","k":"k","x":28,"y":82},{"p":"b","k":"k","x":30,"y":86},{"p":"b","k":"k","x":32,"y":89},{"p":"b","k":"k","x":34,"y":94},{"p":"b","k":"k","x":36,"y":99},{"p":"b","k":"k","x":38,"y":105},{"p":"b","k":"k","x":40,"y":109.5},{"p":"b","k":"k","x":42,"y":111},{"p":"b","k":"k","x":44,"y":108},{"p":"b","k":"k","x":46,"y":104},{"p":"b","k":"k","x":48,"y":98},{"p":"b","k":"k","x":50,"y":92},{"p":"b","k":"k","x":52,"y":85},{"p":"b","k":"k","x":54,"y":79},{"p":"b","k":"k","x":56,"y":74},{"p":"b","k":"k","x":58,"y":71},{"p":"b","k":"k","x":60,"y":68.5},{"p":"b","k":"k","x":62,"y":68},{"p":"b","k":"k","x":64,"y":69},{"p":"b","k":"k","x":66,"y":71},{"p":"b","k":"k","x":68,"y":74},{"p":"b","k":"k","x":70,"y":77},{"p":"b","k":"k","x":72,"y":80},{"p":"b","k":"k","x":74,"y":83},{"p":"b","k":"k","x":76,"y":83},{"p":"b","k":"k","x":78,"y":80.5},{"p":"b","k":"k","x":80,"y":77},{"p":"b","k":"k","x":82,"y":73},{"p":"b","k":"k","x":84,"y":70},{"p":"b","k":"k","x":86,"y":66},{"p":"b","k":"k","x":88,"y":61},{"p":"b","k":"k","x":90,"y":55},{"p":"b","k":"k","x":92,"y":48},{"p":"b","k":"k","x":94,"y":45},{"p":"b","k":"k","x":96,"y":43},{"p":"b","k":"k","x":98,"y":42},{"p":"b","k":"k","x":100,"y":41},{"p":"b","k":"k","x":102,"y":40},{"p":"b","k":"k","x":104,"y":38},{"p":"b","k":"k","x":106,"y":35},{"p":"b","k":"k","x":108,"y":32},{"p":"b","k":"k","x":110,"y":29},{"p":"b","k":"k","x":112,"y":26},{"p":"b","k":"k","x":114,"y":23},{"p":"b","k":"k","x":116,"y":18},{"p":"b","k":"k","x":118,"y":12},{"p":"b","k":"k","x":120,"y":5},{"p":"b","k":"k","x":122,"y":5},{"p":"b","k":"k","x":124,"y":7},{"p":"b","k":"k","x":126,"y":8},{"p":"b","k":"k","x":128,"y":10},{"p":"b","k":"k","x":130,"y":12},{"p":"b","k":"k","x":132,"y":14},{"p":"b","k":"k","x":134,"y":21},{"p":"b","k":"k","x":136,"y":26},{"p":"b","k":"k","x":138,"y":29.5},{"p":"b","k":"k","x":140,"y":31},{"p":"b","k":"k","x":142,"y":28},{"p":"b","k":"k","x":144,"y":25},{"p":"b","k":"k","x":146,"y":20},{"p":"b","k":"k","x":148,"y":15},{"p":"b","k":"k","x":150,"y":10},{"p":"b","k":"k","x":152,"y":5},{"p":"b","k":"k","x":154,"y":1},{"p":"b","k":"k","x":156,"y":-3},{"p":"b","k":"k","x":158,"y":-6},{"p":"b","k":"k","x":160,"y":-2},{"p":"b","k":"k","x":162,"y":1},{"p":"b","k":"k","x":164,"y":6},{"p":"b","k":"k","x":166,"y":12},{"p":"b","k":"k","x":168,"y":18},{"p":"b","k":"k","x":170,"y":25},{"p":"b","k":"k","x":172,"y":32},{"p":"b","k":"k","x":174,"y":37},{"p":"b","k":"k","x":176,"y":41},{"p":"b","k":"k","x":178,"y":43},{"p":"b","k":"k","x":180,"y":44},{"p":"b","k":"k","x":182,"y":43},{"p":"b","k":"k","x":184,"y":43.5},{"p":"b","k":"k","x":186,"y":43},{"p":"b","k":"k","x":188,"y":42.5},{"p":"b","k":"k","x":190,"y":42},{"p":"b","k":"k","x":192,"y":41.5},{"p":"b","k":"k","x":194,"y":43},{"p":"b","k":"k","x":196,"y":45},{"p":"b","k":"k","x":198,"y":48},{"p":"b","k":"k","x":200,"y":51},

{"p":"c","k":"k","x":0,"y":53},{"p":"c","k":"k","x":2,"y":58},{"p":"c","k":"k","x":4,"y":61},{"p":"c","k":"k","x":6,"y":64},{"p":"c","k":"k","x":8,"y":67},{"p":"c","k":"k","x":10,"y":68.5},{"p":"c","k":"k","x":12,"y":69.5},{"p":"c","k":"k","x":14,"y":69},{"p":"c","k":"k","x":16,"y":66},{"p":"c","k":"k","x":18,"y":67},{"p":"c","k":"k","x":20,"y":67},{"p":"c","k":"k","x":22,"y":70},{"p":"c","k":"k","x":24,"y":73},{"p":"c","k":"k","x":26,"y":77},{"p":"c","k":"k","x":28,"y":80},{"p":"c","k":"k","x":30,"y":83},{"p":"c","k":"k","x":32,"y":86.5},{"p":"c","k":"k","x":34,"y":92},{"p":"c","k":"k","x":36,"y":99},{"p":"c","k":"k","x":38,"y":107},{"p":"c","k":"k","x":39,"y":109},{"p":"c","k":"k","x":40,"y":110.5},{"p":"c","k":"k","x":42,"y":109.5},{"p":"c","k":"k","x":44,"y":107.5},{"p":"c","k":"k","x":46,"y":104},{"p":"c","k":"k","x":48,"y":98},{"p":"c","k":"k","x":50,"y":93},{"p":"c","k":"k","x":52,"y":87},{"p":"c","k":"k","x":54,"y":81.5},{"p":"c","k":"k","x":56,"y":76},{"p":"c","k":"k","x":58,"y":70},{"p":"c","k":"k","x":60,"y":68},{"p":"c","k":"k","x":62,"y":70},{"p":"c","k":"k","x":64,"y":69},{"p":"c","k":"k","x":66,"y":70},{"p":"c","k":"k","x":68,"y":75},{"p":"c","k":"k","x":70,"y":78},{"p":"c","k":"k","x":72,"y":81},{"p":"c","k":"k","x":74,"y":83},{"p":"c","k":"k","x":76,"y":81.5},{"p":"c","k":"k","x":78,"y":80.5},{"p":"c","k":"k","x":80,"y":77},{"p":"c","k":"k","x":82,"y":73},{"p":"c","k":"k","x":84,"y":69},{"p":"c","k":"k","x":86,"y":66},{"p":"c","k":"k","x":88,"y":61},{"p":"c","k":"k","x":90,"y":56},{"p":"c","k":"k","x":92,"y":49},{"p":"c","k":"k","x":94,"y":46},{"p":"c","k":"k","x":96,"y":44},{"p":"c","k":"k","x":98,"y":43},{"p":"c","k":"k","x":100,"y":42.5},{"p":"c","k":"k","x":102,"y":41},{"p":"c","k":"k","x":104,"y":38.5},{"p":"c","k":"k","x":106,"y":36},{"p":"c","k":"k","x":108,"y":33.5},{"p":"c","k":"k","x":110,"y":30},{"p":"c","k":"k","x":112,"y":27},{"p":"c","k":"k","x":114,"y":24},{"p":"c","k":"k","x":116,"y":19},{"p":"c","k":"k","x":118,"y":12},{"p":"c","k":"k","x":120,"y":6},{"p":"c","k":"k","x":122,"y":6},{"p":"c","k":"k","x":124,"y":6.5},{"p":"c","k":"k","x":126,"y":7.5},{"p":"c","k":"k","x":128,"y":10},{"p":"c","k":"k","x":130,"y":13},{"p":"c","k":"k","x":132,"y":16.5},{"p":"c","k":"k","x":134,"y":21.5},{"p":"c","k":"k","x":136,"y":26},{"p":"c","k":"k","x":138,"y":29.5},{"p":"c","k":"k","x":140,"y":30},{"p":"c","k":"k","x":142,"y":28},{"p":"c","k":"k","x":144,"y":24},{"p":"c","k":"k","x":146,"y":19.5},{"p":"c","k":"k","x":148,"y":16},{"p":"c","k":"k","x":150,"y":11},{"p":"c","k":"k","x":152,"y":6},{"p":"c","k":"k","x":154,"y":1},{"p":"c","k":"k","x":156,"y":-2.5},{"p":"c","k":"k","x":158,"y":-4.5},{"p":"c","k":"k","x":160,"y":-1},{"p":"c","k":"k","x":162,"y":3.5},{"p":"c","k":"k","x":164,"y":7.5},{"p":"c","k":"k","x":166,"y":13},{"p":"c","k":"k","x":168,"y":19.5},{"p":"c","k":"k","x":170,"y":27},{"p":"c","k":"k","x":172,"y":34.5},{"p":"c","k":"k","x":174,"y":40},{"p":"c","k":"k","x":176,"y":42.5},{"p":"c","k":"k","x":178,"y":43.8},{"p":"c","k":"k","x":180,"y":43.5},{"p":"c","k":"k","x":182,"y":43.2},{"p":"c","k":"k","x":184,"y":44},{"p":"c","k":"k","x":186,"y":44},{"p":"c","k":"k","x":188,"y":42.8},{"p":"c","k":"k","x":190,"y":42},{"p":"c","k":"k","x":192,"y":41.3},{"p":"c","k":"k","x":194,"y":42.5},{"p":"c","k":"k","x":196,"y":44.5},{"p":"c","k":"k","x":198,"y":47},{"p":"c","k":"k","x":200,"y":50},

{"p":"a","k":"dash","x":66,"y":-20,"y2":67.5},{"p":"a","k":"dash","x":132.5,"y":-20,"y2":13},
{"p":"b","k":"dash","x":66.5,"y":-20,"y2":70},{"p":"b","k":"dash","x":133,"y":-20,"y2":15},
{"p":"c","k":"dash","x":66.8,"y":-20,"y2":62},{"p":"c","k":"dash","x":132.5,"y":-20,"y2":14.5},

{"p":"a","k":"arr","x":1,"x2":65.3,"y":16.5},{"p":"a","k":"arr","x":67.3,"x2":131.8,"y":-1},{"p":"a","k":"arr","x":134,"x2":199.3,"y":-11.2},
{"p":"b","k":"arr","x":1,"x2":65.5,"y":14},{"p":"b","k":"arr","x":67.5,"x2":132,"y":-3},{"p":"b","k":"arr","x":134.5,"x2":199.3,"y":-13},
{"p":"c","k":"arr","x":1,"x2":65.5,"y":11.8},{"p":"c","k":"arr","x":67.5,"x2":131.8,"y":-4.1},{"p":"c","k":"arr","x":134.5,"x2":199.3,"y":-14},

{"p":"a","k":"sig","x":33.7,"y":23.7,"t":"σᵥ² = 20"},{"p":"a","k":"sig","x":99,"y":5.8,"t":"σᵥ² = 3"},{"p":"a","k":"sig","x":181,"y":-4.6,"t":"σᵥ² = 6"},
{"p":"b","k":"sig","x":33.5,"y":21,"t":"σᵥ² = 20"},{"p":"b","k":"sig","x":99,"y":4,"t":"σᵥ² = 3"},{"p":"b","k":"sig","x":181,"y":-6,"t":"σᵥ² = 6"},
{"p":"c","k":"sig","x":33.4,"y":19.1,"t":"σᵥ² = 20"},{"p":"c","k":"sig","x":99.3,"y":2.9,"t":"σᵥ² = 3"},{"p":"c","k":"sig","x":181.3,"y":-6.9,"t":"σᵥ² = 6"},

{"p":"a","k":"hd","x":142,"y":111,"t":"Data sampling resolution"},{"p":"b","k":"hd","x":142,"y":112,"t":"Data sampling resolution"},{"p":"c","k":"hd","x":142,"y":114,"t":"Data sampling resolution"},
{"p":"a","k":"hx","x":142,"y":99.5,"t":"hₓ = 1.0 km"},{"p":"b","k":"hx","x":142,"y":100,"t":"hₓ = 0.5 km"},{"p":"c","k":"hx","x":142,"y":99,"t":"hₓ = 0.1 km"},
{"p":"a","k":"lt","x":7,"y":130,"t":"a"},{"p":"b","k":"lt","x":7,"y":130,"t":"b"},{"p":"c","k":"lt","x":7,"y":130,"t":"c"}
]},
"data":{"name":"d"},
"facet":{"row":{"field":"p","type":"nominal","header":null,"title":null}},
"spacing":{"row":19},
"resolve":{"axis":{"x":"independent"}},
"spec":{
"width":577,"height":428,
"layer":[
{"transform":[{"filter":"datum.k=='band'"}],"mark":{"type":"area","color":"#959595","opacity":1},
 "encoding":{"x":{"field":"x","type":"quantitative","scale":{"domain":[0,200],"nice":false},"axis":{"values":[0,20,40,60,80,100,120,140,160,180,200],"title":"x (in km)","labelPadding":10,"titlePadding":18}},
 "y":{"field":"y","type":"quantitative","scale":{"domain":[-20,140],"nice":false},"axis":{"values":[-20,0,20,40,60,80,100,120,140],"title":"(in mGal)","labelPadding":6,"titlePadding":-4}},
 "y2":{"field":"y2"}}},
{"transform":[{"filter":"datum.k=='g'"}],"mark":{"type":"line","color":"#8c8c8c","strokeWidth":1.6},
 "encoding":{"x":{"field":"x","type":"quantitative"},"y":{"field":"y","type":"quantitative"}}},
{"transform":[{"filter":"datum.k=='k'"}],"mark":{"type":"line","color":"#111","strokeWidth":2.2},
 "encoding":{"x":{"field":"x","type":"quantitative"},"y":{"field":"y","type":"quantitative"}}},
{"transform":[{"filter":"datum.k=='dash'"}],"mark":{"type":"rule","color":"#222","strokeWidth":1.1,"strokeDash":[4,3]},
 "encoding":{"x":{"field":"x","type":"quantitative"},"y":{"field":"y","type":"quantitative"},"y2":{"field":"y2"}}},
{"transform":[{"filter":"datum.k=='arr'"}],"mark":{"type":"rule","color":"#333","strokeWidth":1.5},
 "encoding":{"x":{"field":"x","type":"quantitative"},"x2":{"field":"x2"},"y":{"field":"y","type":"quantitative"}}},
{"transform":[{"filter":"datum.k=='arr'"}],"mark":{"type":"point","shape":"M0,0L2,-0.8L2,0.8Z","filled":true,"size":100,"color":"#111","opacity":1,"strokeWidth":0},
 "encoding":{"x":{"field":"x","type":"quantitative"},"y":{"field":"y","type":"quantitative"}}},
{"transform":[{"filter":"datum.k=='arr'"}],"mark":{"type":"point","shape":"M0,0L-2,-0.8L-2,0.8Z","filled":true,"size":100,"color":"#111","opacity":1,"strokeWidth":0},
 "encoding":{"x":{"field":"x2","type":"quantitative"},"y":{"field":"y","type":"quantitative"}}},
{"transform":[{"filter":"datum.k=='sig'"}],"mark":{"type":"text","font":"Liberation Sans","fontSize":17,"color":"#222","align":"center","baseline":"middle"},
 "encoding":{"x":{"field":"x","type":"quantitative"},"y":{"field":"y","type":"quantitative"},"text":{"field":"t"}}},
{"transform":[{"filter":"datum.k=='hd'"}],"mark":{"type":"text","font":"Liberation Sans","fontSize":16.5,"fontWeight":"bold","fontStyle":"italic","color":"#222","align":"center","baseline":"middle"},
 "encoding":{"x":{"field":"x","type":"quantitative"},"y":{"field":"y","type":"quantitative"},"text":{"field":"t"}}},
{"transform":[{"filter":"datum.k=='hx'"}],"mark":{"type":"text","font":"Liberation Serif","fontSize":19,"fontStyle":"italic","color":"#222","align":"center","baseline":"middle"},
 "encoding":{"x":{"field":"x","type":"quantitative"},"y":{"field":"y","type":"quantitative"},"text":{"field":"t"}}},
{"transform":[{"filter":"datum.k=='lt'"}],"mark":{"type":"text","font":"Liberation Sans","fontSize":26,"fontWeight":"bold","color":"#111","align":"center","baseline":"alphabetic"},
 "encoding":{"x":{"field":"x","type":"quantitative"},"y":{"field":"y","type":"quantitative"},"text":{"field":"t"}}}
]}
}
